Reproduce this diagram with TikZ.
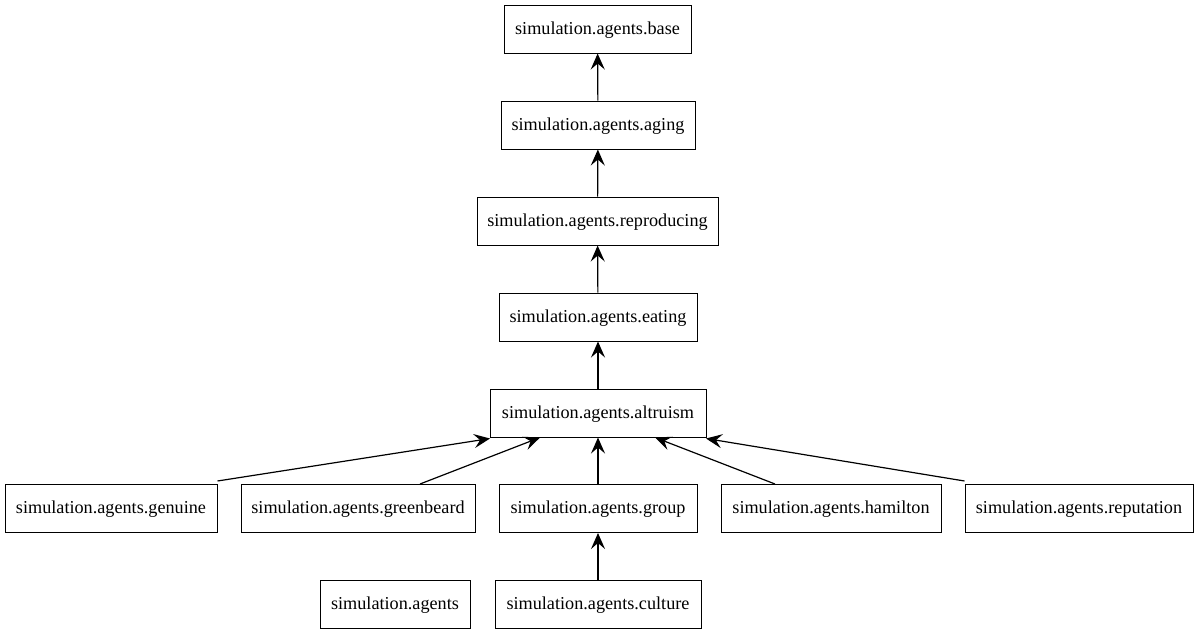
\documentclass[tikz,border=0pt]{standalone}
\usepackage{fontspec}
\setmainfont{Liberation Serif}
\newfontfamily\tnr{Liberation Serif}
\usetikzlibrary{arrows.meta}
\begin{document}
\begin{tikzpicture}[x=1pt,y=-1pt,
  mod/.style={draw,line width=1pt,minimum height=48pt,inner sep=0pt,text depth=2.5pt,font=\tnr\fontsize{18.2}{21}\selectfont},
  dep/.style={-{Stealth[length=16pt,width=14pt,inset=6pt]},line width=1.2pt}]
\useasboundingbox (0,0) rectangle (1199,635);
\node[mod,minimum width=187pt] (base) at (597.5,29) {simulation.agents.base};
\node[mod,minimum width=194pt] (aging) at (598,125) {simulation.agents.aging};
\node[mod,minimum width=241pt] (repro) at (597.5,221) {simulation.agents.reproducing};
\node[mod,minimum width=198pt] (eating) at (598,317) {simulation.agents.eating};
\node[mod,minimum width=216pt] (altru) at (598,413) {simulation.agents.altruism};
\node[mod,minimum width=212pt] (genuine) at (111,508.5) {simulation.agents.genuine};
\node[mod,minimum width=234pt] (green) at (358,508.5) {simulation.agents.greenbeard};
\node[mod,minimum width=198pt] (group) at (598,508.5) {simulation.agents.group};
\node[mod,minimum width=220pt] (hamil) at (831,508.5) {simulation.agents.hamilton};
\node[mod,minimum width=228pt] (reput) at (1079,508.5) {simulation.agents.reputation};
\node[mod,minimum width=150pt] (agents) at (395,604) {simulation.agents};
\node[mod,minimum width=206pt] (culture) at (598,604) {simulation.agents.culture};
\draw[dep] (aging) -- (base);
\draw[dep] (repro) -- (aging);
\draw[dep] (eating) -- (repro);
\draw[dep] (altru) -- (eating);
\draw[dep] ([yshift=3pt]genuine.north east) -- ([xshift=-108pt,yshift=-1pt]altru.south);
\draw[dep] ([xshift=62pt]green.north) -- ([xshift=-58pt]altru.south);
\draw[dep] (group) -- (altru);
\draw[dep] ([xshift=-56pt]hamil.north) -- ([xshift=57pt]altru.south);
\draw[dep] ([yshift=3pt]reput.north west) -- ([xshift=108pt,yshift=-1pt]altru.south);
\draw[dep] (culture) -- (group);
\end{tikzpicture}
\end{document}
